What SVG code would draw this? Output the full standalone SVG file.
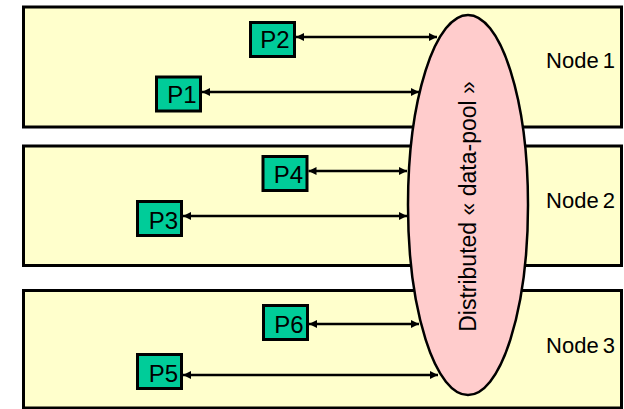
<svg xmlns="http://www.w3.org/2000/svg" width="624" height="409" viewBox="0 0 624 409">
  <style>
    .node { fill: #FFFFCC; stroke: #000; stroke-width: 3; }
    .proc { fill: #00CC99; stroke: #000; stroke-width: 3; }
    .pool { fill: #FFCCCC; stroke: #000; stroke-width: 2.5; }
    .link { stroke: #000; stroke-width: 2.5; fill: none; marker-start: url(#head); marker-end: url(#head); }
    .lbl { font-family: "Liberation Sans", Arial, sans-serif; font-size: 22px; word-spacing: -2px; fill: #000; }
    .plbl { font-family: "Liberation Sans", Arial, sans-serif; font-size: 24px; fill: #000; text-anchor: middle; }
    .poollbl { font-family: "Liberation Sans", Arial, sans-serif; font-size: 23px; fill: #000; text-anchor: middle; }
  </style>
  <defs>
    <marker id="head" viewBox="0 0 10 10" refX="10" refY="5" markerWidth="9" markerHeight="8" markerUnits="userSpaceOnUse" orient="auto-start-reverse">
      <path d="M0,0 L10,5 L0,10 z" fill="#000"/>
    </marker>
  </defs>

  <!-- compute nodes -->
  <g id="node1">
    <rect class="node" x="23.5" y="7" width="598" height="120"/>
    <text class="lbl" x="615" y="68" text-anchor="end">Node 1</text>
  </g>
  <g id="node2">
    <rect class="node" x="23.5" y="146" width="598" height="119.5"/>
    <text class="lbl" x="615" y="208" text-anchor="end">Node 2</text>
  </g>
  <g id="node3">
    <rect class="node" x="23.5" y="290.5" width="598" height="117.5"/>
    <text class="lbl" x="615" y="353" text-anchor="end">Node 3</text>
  </g>

  <!-- shared data pool spanning all nodes -->
  <g id="pool">
    <ellipse class="pool" cx="468" cy="205" rx="60" ry="190"/>
    <text class="poollbl" transform="translate(476,206.5) rotate(-90)">Distributed « data-pool »</text>
  </g>

  <!-- processes -->
  <g id="p2">
    <rect class="proc" x="250.5" y="22.5" width="44" height="34"/>
    <text class="plbl" x="275" y="48">P2</text>
  </g>
  <g id="p1">
    <rect class="proc" x="156.5" y="77" width="44" height="34"/>
    <text class="plbl" x="182" y="103">P1</text>
  </g>
  <g id="p4">
    <rect class="proc" x="263" y="156.5" width="44" height="34"/>
    <text class="plbl" x="288.5" y="182.5">P4</text>
  </g>
  <g id="p3">
    <rect class="proc" x="137.5" y="201.5" width="44" height="34"/>
    <text class="plbl" x="163.5" y="229">P3</text>
  </g>
  <g id="p6">
    <rect class="proc" x="263.5" y="305.5" width="44" height="34"/>
    <text class="plbl" x="289" y="333">P6</text>
  </g>
  <g id="p5">
    <rect class="proc" x="137.5" y="354.5" width="44" height="34"/>
    <text class="plbl" x="163.5" y="381.5">P5</text>
  </g>

  <!-- process <-> pool links -->
  <g id="connectors">
    <line class="link" x1="296" y1="37" x2="437" y2="37"/>
    <line class="link" x1="202" y1="92" x2="419" y2="92"/>
    <line class="link" x1="308.5" y1="171" x2="407" y2="171"/>
    <line class="link" x1="183" y1="216" x2="407" y2="216"/>
    <line class="link" x1="309" y1="324" x2="419" y2="324"/>
    <line class="link" x1="183" y1="375" x2="438" y2="375"/>
  </g>
</svg>
